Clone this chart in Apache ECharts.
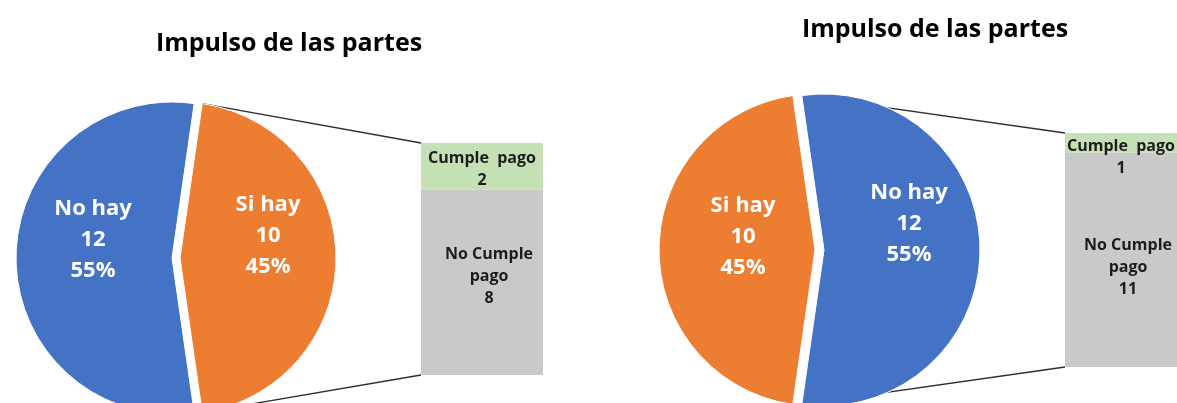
<!DOCTYPE html>
<html>
<head>
<meta charset="utf-8">
<script src="https://cdn.jsdelivr.net/npm/echarts@6/dist/echarts.min.js"></script>
<style>
  html, body { margin: 0; padding: 0; background: #fff; }
  #chart { width: 1177px; height: 403px; }
</style>
</head>
<body>
<div id="chart"></div>
<script>
// datos del gráfico
const chartTitle = 'Impulso de las partes';
const pieNames = ['No hay', 'Si hay'];
const leftPieValues = [12, 10];
const rightPieValues = [12, 10];
const leftSplitIndex = 1;   // "Si hay" se desglosa en la barra
const rightSplitIndex = 0;  // "No hay" se desglosa en la barra
const barNames = ['Cumple  pago', 'No Cumple\npago'];
const leftBarValues = [2, 8];
const rightBarValues = [1, 11];

const pieColors = ['#4472C4', '#ED7D31'];
const barColors = ['#C5E0B4', '#C9C9C9'];
const font = 'Open Sans';

// geometría de cada bloque (pie + barra)
const panels = [
  { values: leftPieValues, split: leftSplitIndex, bar: leftBarValues,
    center: [172, 258], radius: 156, offset: 8,
    grid: { left: 421, top: 143, width: 122, height: 232 },
    title: [284, 26],
    labelShift: { 'No hay': [2, -18], 'Si hay': [7, -22] },
    barLabelShift: [[0, 3], [7, -6]] },
  { values: rightPieValues, split: rightSplitIndex, bar: rightBarValues,
    center: [815, 250], radius: 156, offset: 9,
    grid: { left: 1065, top: 133, width: 122, height: 234 },
    title: [930, 12],
    labelShift: { 'No hay': [4, -26], 'Si hay': [9, -13] },
    barLabelShift: [[0, 15], [7, 8]] }
];

const chart = echarts.init(document.getElementById('chart'));

const option = {
  animation: false,
  title: [],
  grid: [],
  xAxis: [],
  yAxis: [],
  series: [],
  graphic: []
};

panels.forEach((p, k) => {
  const total = p.values.reduce((a, b) => a + b, 0);
  const startAngle = 180 * p.values[p.split] / total;
  const order = [p.split, 1 - p.split];

  option.title.push({
    text: chartTitle,
    left: p.title[0],
    top: p.title[1],
    textAlign: 'center',
    textStyle: { fontFamily: font, fontSize: 25, fontWeight: 'bold', color: '#000' }
  });

  option.series.push({
    type: 'pie',
    center: p.center,
    radius: p.radius,
    startAngle: startAngle,
    selectedMode: 'single',
    selectedOffset: p.offset,
    percentPrecision: 0,
    itemStyle: { borderColor: '#fff', borderWidth: 1 },
    emphasis: { disabled: true },
    label: {
      show: true,
      position: 'inside',
      formatter: '{b}\n{c}\n{d}%',
      color: '#fff',
      fontFamily: font,
      fontSize: 22,
      fontWeight: 'bold',
      lineHeight: 31
    },
    labelLine: { show: false },
    labelLayout: (params) => {
      const s = p.labelShift[pieNames[order[params.dataIndex]]];
      return { dx: s[0], dy: s[1] };
    },
    data: order.map(i => ({
      name: pieNames[i],
      value: p.values[i],
      selected: i === p.split,
      itemStyle: { color: pieColors[i] }
    }))
  });

  // barra apilada del desglose
  option.grid.push(p.grid);
  option.xAxis.push({ type: 'category', gridIndex: k, data: ['x'], show: false });
  option.yAxis.push({ type: 'value', gridIndex: k, min: 0,
    max: p.bar.reduce((a, b) => a + b, 0), show: false });
  [1, 0].forEach(j => {
    option.series.push({
      type: 'bar',
      name: barNames[j],
      xAxisIndex: k,
      yAxisIndex: k,
      stack: 'desglose' + k,
      barWidth: '100%',
      itemStyle: { color: barColors[j] },
      emphasis: { disabled: true },
      label: {
        show: true,
        position: 'inside',
        formatter: '{a}\n{c}',
        color: '#1c1c1c',
        fontFamily: font,
        fontSize: 16,
        fontWeight: 'bold',
        lineHeight: 22,
        offset: p.barLabelShift[j]
      },
      data: [p.bar[j]]
    });
  });

  // líneas de conexión entre la porción separada y la barra
  const cx = p.center[0] + p.offset;
  const cy = p.center[1];
  const a = startAngle * Math.PI / 180;
  const g = p.grid;
  [[-1, g.top], [1, g.top + g.height]].forEach(([sign, yEnd]) => {
    option.graphic.push({
      type: 'line',
      z: 0,
      shape: {
        x1: cx + p.radius * Math.cos(a),
        y1: cy + sign * p.radius * Math.sin(a),
        x2: g.left,
        y2: yEnd
      },
      style: { stroke: '#2e2e2e', lineWidth: 1.3 }
    });
  });
});

chart.setOption(option);
</script>
</body>
</html>
